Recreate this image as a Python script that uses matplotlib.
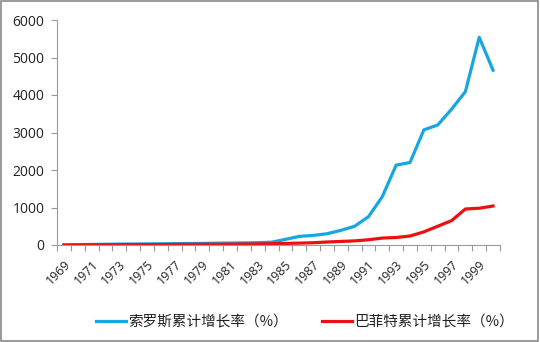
import matplotlib
matplotlib.use("Agg")
import matplotlib.pyplot as plt
from matplotlib.patches import Rectangle
from matplotlib.lines import Line2D

years = list(range(1969, 2001))
soros = [0, 8, 15, 20, 25, 28, 30, 33, 36, 40, 44, 48, 52, 57, 62, 75, 150, 230,
         255, 300, 390, 500, 755, 1290, 2130, 2200, 3070, 3200, 3620, 4090, 5540, 4660]
buffett = [0, 2, 4, 6, 8, 9, 10, 12, 14, 16, 18, 20, 23, 26, 30, 35, 42, 50,
           60, 80, 95, 110, 140, 185, 200, 240, 350, 500, 650, 960, 980, 1040]
soros_label = "索罗斯累计增长率（%）"
buffett_label = "巴菲特累计增长率（%）"

blue = "#16a6e0"
red = "#ee1010"
num_font = "Open Sans"
cjk_font = ["Noto Sans CJK SC", "DejaVu Sans"]

fig = plt.figure(figsize=(5.4, 3.42), dpi=100)
fig.patches.append(Rectangle((0.002, 0.003), 0.995, 0.993, transform=fig.transFigure,
                             fill=False, edgecolor="#8a8a8a", linewidth=1.2))

ax = fig.add_axes([57 / 540, 1 - 245 / 342, (500 - 57) / 540, (245 - 20) / 342])
x = list(range(len(years)))
ax.plot(x, soros, color=blue, linewidth=2.3, solid_joinstyle="round")
ax.plot(x, buffett, color=red, linewidth=2.3, solid_joinstyle="round")

ax.set_xlim(-0.5, len(years) - 0.5)
ax.set_ylim(0, 6000)
ax.set_yticks(range(0, 6001, 1000))
ax.set_yticklabels([str(v) for v in range(0, 6001, 1000)], fontsize=10,
                   family=num_font, color="#222222")
ax.tick_params(axis="y", length=4, color="#9a9a9a", width=0.8, pad=5)

ax.set_xticks(x[::2])
ax.set_xticklabels([str(y) for y in years[::2]], rotation=45, ha="right",
                   rotation_mode="anchor", fontsize=9, family=num_font, color="#222222")
ax.set_xticks([i - 0.5 for i in range(len(years) + 1)], minor=True)
ax.tick_params(axis="x", which="major", length=0, pad=9)
ax.tick_params(axis="x", which="minor", length=4, color="#9a9a9a", width=0.8)

for side in ("top", "right"):
    ax.spines[side].set_visible(False)
for side in ("left", "bottom"):
    ax.spines[side].set_color("#9a9a9a")
    ax.spines[side].set_linewidth(0.8)

handles = [Line2D([], [], color=blue, linewidth=2.3),
           Line2D([], [], color=red, linewidth=2.3)]
leg = fig.legend(handles, [soros_label, buffett_label], loc="center",
                 bbox_to_anchor=(305 / 540, 1 - 322 / 342), ncol=2, frameon=False,
                 prop={"family": cjk_font, "size": 10.5}, handlelength=2.1,
                 handletextpad=0.15, columnspacing=2.3, borderpad=0)
for t in leg.get_texts():
    t.set_color("#222222")

fig.savefig("out.png", dpi=100)
